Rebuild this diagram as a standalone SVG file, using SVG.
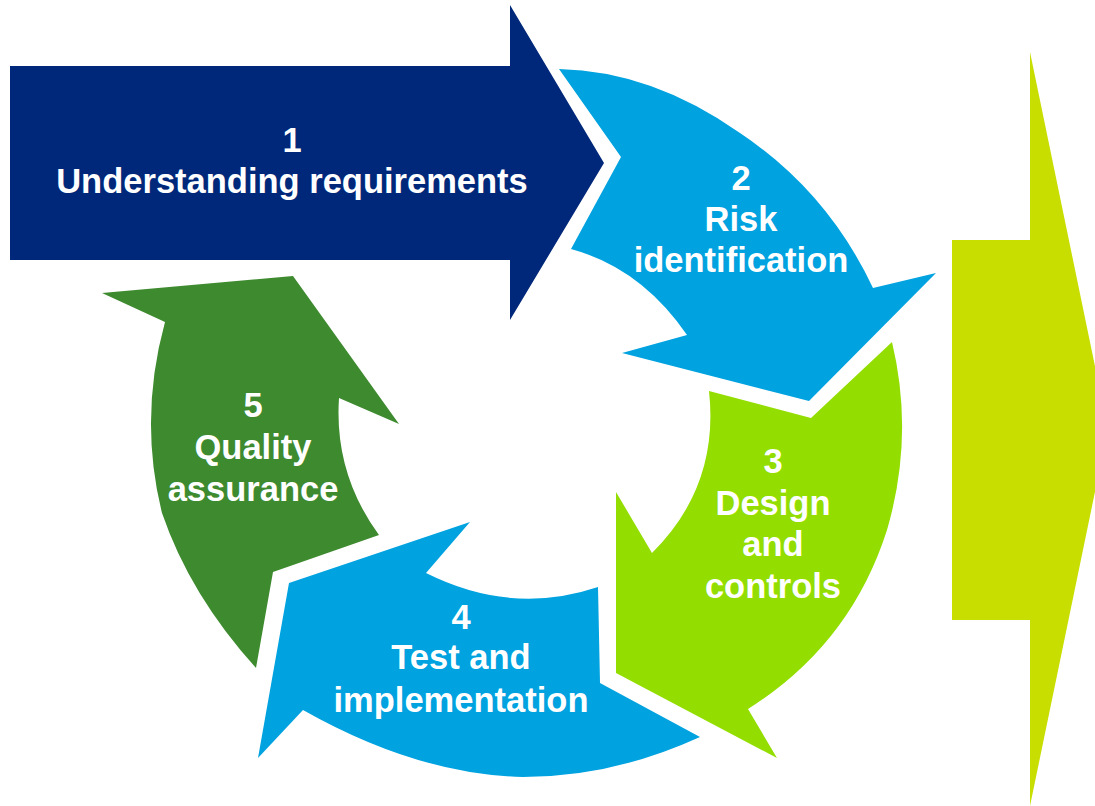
<svg xmlns="http://www.w3.org/2000/svg" width="1095" height="806" viewBox="0 0 1095 806">
  <style>
    .lbl { font-family: "Liberation Sans", Arial, sans-serif; font-weight: bold; font-size: 34.5px; fill: #ffffff; text-anchor: middle; }
    .navy { fill: #00287A; }
    .sky { fill: #00A2DF; }
    .lime { fill: #93DE00; }
    .forest { fill: #3E8A2F; }
    .olive { fill: #C8DE00; }
  </style>
  <rect width="1095" height="806" fill="#ffffff"/>

  <!-- 1: straight arrow into the cycle -->
  <g id="step1">
    <polygon class="navy" points="10,66 510,66 510,5 604,163 510,320 510,260 10,260"/>
    <text class="lbl" x="292" y="152">1</text>
    <text class="lbl" x="292" y="193">Understanding requirements</text>
  </g>

  <!-- 2: curved arrow, top right -->
  <g id="step2">
    <path class="sky" d="M559,69 Q652,71 740,133 Q827.5,191.5 873,288 L936,273 L809,401 L622,353 L687,335 Q641,268 571,249 L621,157 Z"/>
    <text class="lbl" x="741" y="190">2</text>
    <text class="lbl" x="741" y="231">Risk</text>
    <text class="lbl" x="741" y="272">identification</text>
  </g>

  <!-- 3: curved arrow, right -->
  <g id="step3">
    <path class="lime" d="M709,391 L811,418 L892,342 Q914.5,436 887,530 Q850.5,644.5 748,709 L777,758 L616,673 L616,492 L652,553 Q719.5,486 709,391 Z"/>
    <text class="lbl" x="773" y="473">3</text>
    <text class="lbl" x="773" y="515">Design</text>
    <text class="lbl" x="773" y="556">and</text>
    <text class="lbl" x="773" y="598">controls</text>
  </g>

  <!-- 4: curved arrow, bottom -->
  <g id="step4">
    <path class="sky" d="M598,587 L600,683 L700,737 Q612.5,777 523,777 Q417,774.5 303,710 L258,758 L289,583 L470,522 L426,573 Q512,616 598,587 Z"/>
    <text class="lbl" x="461" y="629">4</text>
    <text class="lbl" x="461" y="669">Test and</text>
    <text class="lbl" x="461" y="712">implementation</text>
  </g>

  <!-- 5: curved arrow, left -->
  <g id="step5">
    <path class="forest" d="M256,668 L273,572 L379,535 Q334,473.5 339,398 L399,424 L293,276 L102,293 L165,322 Q138.5,418.5 162,513 Q190,595 256,668 Z"/>
    <text class="lbl" x="253" y="417">5</text>
    <text class="lbl" x="253" y="459">Quality</text>
    <text class="lbl" x="253" y="501">assurance</text>
  </g>

  <!-- outcome arrow on the right edge -->
  <g id="outcome">
    <polygon class="olive" points="952,240 1030,240 1030,52 1108,429 1030,806 1030,620 952,620"/>
  </g>

  <!-- the cycle is formed by the arrow shapes themselves; no separate connectors -->
  <g id="connectors"></g>
</svg>
